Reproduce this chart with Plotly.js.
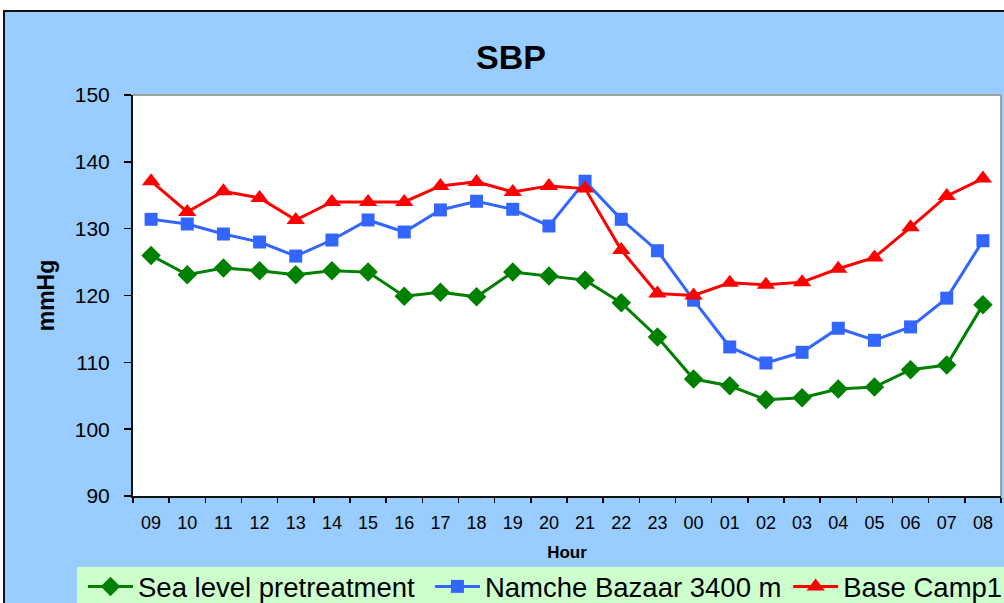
<!DOCTYPE html>
<html>
<head>
<meta charset="utf-8">
<script src="https://cdn.plot.ly/plotly-3.0.1.min.js"></script>
<style>
html, body { margin: 0; padding: 0; background: #ffffff; overflow: hidden; width: 1004px; height: 603px; }
#chart { position: absolute; left: 3px; top: 10px; width: 1100px; height: 620px; border-left: 2px solid #111; border-top: 2px solid #111; }
</style>
</head>
<body>
<div id="chart"></div>
<script>
const hours = ["09","10","11","12","13","14","15","16","17","18","19","20","21","22","23","00","01","02","03","04","05","06","07","08"];
const seaLevel = [126.0,123.1,124.1,123.7,123.1,123.7,123.5,119.9,120.5,119.8,123.5,122.9,122.3,118.9,113.8,107.5,106.5,104.4,104.7,106.0,106.3,108.9,109.6,118.6];
const namche = [131.4,130.7,129.2,128.0,125.9,128.3,131.3,129.5,132.8,134.1,132.9,130.4,137.1,131.4,126.7,119.3,112.3,109.9,111.5,115.1,113.3,115.3,119.6,128.2];
const baseCamp = [137.1,132.5,135.6,134.6,131.3,134.0,134.0,134.0,136.4,137.0,135.5,136.4,136.0,126.8,120.3,120.0,121.9,121.6,122.0,124.0,125.7,130.2,134.9,137.5];
const seriesNames = ["Sea level pretreatment","Namche Bazaar 3400 m","Base Camp1"];

const traces = [
  {x: hours, y: seaLevel, name: seriesNames[0], type: 'scatter', mode: 'lines+markers', legend: 'legend',
   line: {color: '#008000', width: 3}, marker: {symbol: 'diamond', size: 15, color: '#008000'}},
  {x: hours, y: namche, name: seriesNames[1], type: 'scatter', mode: 'lines+markers', legend: 'legend2',
   line: {color: '#3366FF', width: 3}, marker: {symbol: 'square', size: 13, color: '#3366FF'}},
  {x: hours, y: baseCamp, name: seriesNames[2], type: 'scatter', mode: 'lines+markers', legend: 'legend3',
   line: {color: '#FF0000', width: 3}, marker: {symbol: 'triangle-up', size: 16, color: '#FF0000'}}
];

const legendBase = {orientation: 'h', xanchor: 'left', y: -0.1646, yanchor: 'top',
  bgcolor: 'rgba(0,0,0,0)', borderwidth: 0, font: {size: 27.5}, itemwidth: 45};

const layout = {
  width: 1100, height: 620,
  margin: {l: 128, r: 104, t: 83, b: 136},
  paper_bgcolor: '#99CCFF',
  plot_bgcolor: '#FFFFFF',
  font: {family: 'Arial, Liberation Sans, sans-serif', color: '#000000'},
  title: {text: '<b>SBP</b>', font: {size: 34, color: '#000'}, xref: 'paper', x: 0.4355, xanchor: 'center', yref: 'container', y: 0.927, yanchor: 'middle'},
  xaxis: {
    type: 'category', range: [-0.5, 23.5], tickson: 'boundaries', ticks: 'outside', ticklen: 5, tickwidth: 1.5, tickcolor: '#000',
    showline: true, linecolor: '#111', linewidth: 2, showgrid: false, zeroline: false,
    tickfont: {size: 18}, ticklabelstandoff: 9,
    title: {text: '<b>Hour</b>', font: {size: 17}, standoff: 15},
    fixedrange: true
  },
  yaxis: {
    range: [90, 150], dtick: 10, tick0: 90, ticks: 'outside', ticklen: 7, tickwidth: 1.5, tickcolor: '#000',
    showline: true, linecolor: '#111', linewidth: 2, showgrid: false, zeroline: false,
    tickfont: {size: 21}, ticklabelstandoff: 10,
    title: {text: '<b>mmHg</b>', font: {size: 23}, standoff: 14},
    fixedrange: true
  },
  shapes: [
    {type: 'rect', xref: 'paper', yref: 'paper', x0: -0.0645, x1: 1.2, y0: -0.177, y1: -0.5, line: {width: 0}, fillcolor: '#CCFFCC', layer: 'below'},
    {type: 'line', xref: 'paper', yref: 'paper', x0: 0, x1: 1, y0: 1, y1: 1, line: {color: '#A0A0A0', width: 2}, layer: 'below'},
    {type: 'line', xref: 'paper', yref: 'paper', x0: 1, x1: 1, y0: 0, y1: 1, line: {color: '#A0A0A0', width: 2}, layer: 'below'}
  ],
  showlegend: true,
  legend: Object.assign({}, legendBase, {x: -0.0576}),
  legend2: Object.assign({}, legendBase, {x: 0.3421}),
  legend3: Object.assign({}, legendBase, {x: 0.7548})
};

Plotly.newPlot('chart', traces, layout, {staticPlot: true, displayModeBar: false});
</script>
</body>
</html>
